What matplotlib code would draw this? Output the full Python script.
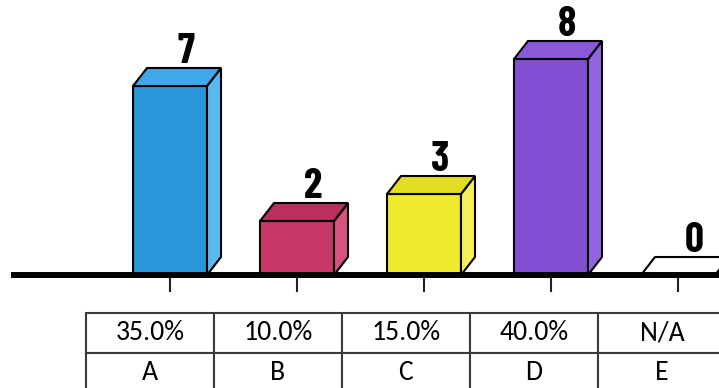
import matplotlib
matplotlib.use("Agg")
import matplotlib.pyplot as plt
from matplotlib.patches import Polygon


# chart data
categories = ["A", "B", "C", "D", "E"]
counts = [7, 2, 3, 8, 0]
pct_labels = ["35.0%", "10.0%", "15.0%", "40.0%", "N/A"]

front_colors = ["#2896DA", "#C83769", "#EFEA2E", "#824ED2", "#FFFFFF"]
top_colors = ["#3DA8EA", "#B8305F", "#E2DC22", "#8A58D8", "#FFFFFF"]
side_colors = ["#58B8F2", "#D6527F", "#F5F158", "#9464DC", "#FFFFFF"]

W, H = 719, 388
fig = plt.figure(figsize=(W / 100, H / 100), dpi=100)

# pixel layout of the original picture
base_px = 275      # baseline (from top)
unit_px = 27       # pixels per count
step_px = 127      # distance between categories
first_px = 170     # centre of first category
left_px = 14       # start of baseline

ax = fig.add_axes([left_px / W, (H - base_px) / H, 1 - left_px / W, base_px / H])
ax.set_xlim(-(first_px - left_px) / step_px, (W - first_px) / step_px)
ax.set_ylim(0, base_px / unit_px)

x = list(range(len(categories)))
bw = 74 / step_px
dx = 14 / step_px
dy = 18 / unit_px

ax.bar(x, counts, width=bw, color=front_colors, edgecolor="black", linewidth=1.5, zorder=2)

# 3d faces
for xi, v, tc, sc in zip(x, counts, top_colors, side_colors):
    x0, x1 = xi - bw / 2, xi + bw / 2
    top = Polygon([(x0, v), (x1, v), (x1 + dx, v + dy), (x0 + dx, v + dy)],
                  closed=True, facecolor=tc, edgecolor="black", linewidth=1.5, zorder=2)
    side = Polygon([(x1, 0), (x1 + dx, dy), (x1 + dx, v + dy), (x1, v)],
                   closed=True, facecolor=sc, edgecolor="black", linewidth=1.5, zorder=2)
    ax.add_patch(side)
    ax.add_patch(top)
    ax.text(xi + 16 / step_px, v + dy + 5 / unit_px, str(v), ha="center", va="baseline",
            fontsize=30, fontweight="bold",
            family=["Barlow Condensed", "DejaVu Sans"], zorder=3)

for s in ["top", "left", "right"]:
    ax.spines[s].set_visible(False)
ax.spines["bottom"].set_linewidth(4.3)
ax.spines["bottom"].set_color("black")
ax.set_yticks([])
ax.set_xticks(x)
ax.set_xticklabels([""] * len(x))
ax.tick_params(axis="x", direction="out", length=12, width=1.5, color="#222222")
ax.patch.set_alpha(0)

# table below the bars
tab_left, tab_top, col_w, row_h = 86, 313, 128, 40
ax_t = fig.add_axes([tab_left / W, (H - tab_top - 2 * row_h) / H,
                     col_w * len(categories) / W, 2 * row_h / H])
ax_t.axis("off")
tbl = ax_t.table(cellText=[pct_labels, categories], cellLoc="center", bbox=[0, 0, 1, 1])
tbl.auto_set_font_size(False)
tbl.set_fontsize(20)
for cell in tbl.get_celld().values():
    cell.set_edgecolor("#3a3a3a")
    cell.set_linewidth(1.5)
    cell.get_text().set_fontfamily("Carlito")

fig.savefig("out.png", dpi=100)
